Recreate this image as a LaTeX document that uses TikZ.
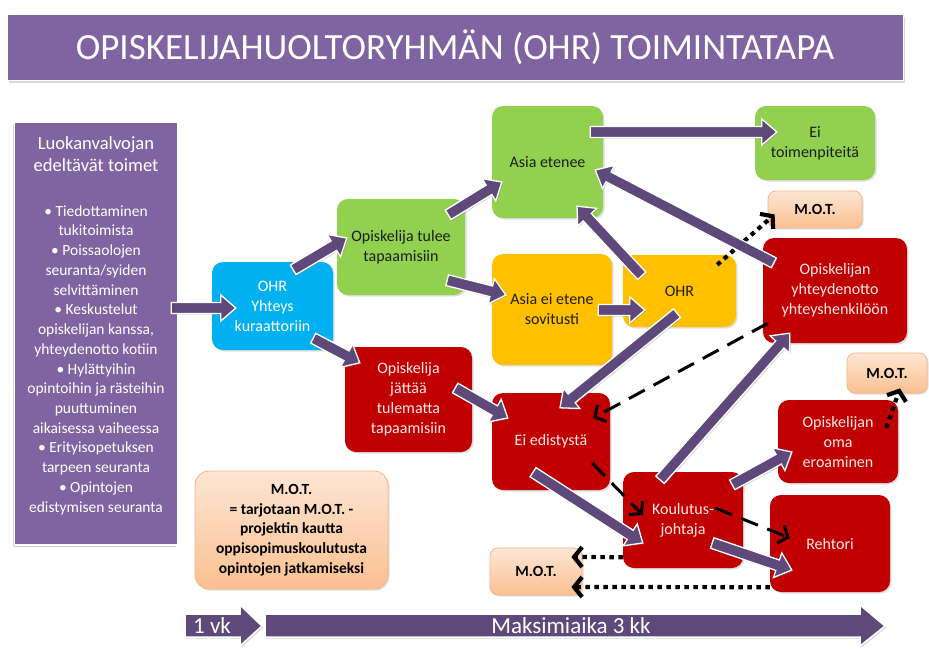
\documentclass[tikz,border=0pt]{standalone}
\usepackage{fontspec}
\setmainfont{Carlito}
\usetikzlibrary{calc,shadows,arrows.meta}
\definecolor{ttl}{HTML}{8064A2}
\definecolor{arr}{HTML}{5F497A}
\definecolor{grn}{HTML}{92D050}
\definecolor{blu}{HTML}{00B0F0}
\definecolor{org}{HTML}{FFC000}
\definecolor{rd}{HTML}{C00000}
\definecolor{pch1}{HTML}{FDE6D4}
\definecolor{pch2}{HTML}{FAC090}
\definecolor{pchb}{HTML}{F6B385}
\definecolor{txt}{HTML}{1E1E1E}
\definecolor{rtxt}{HTML}{FFE8E8}
\newcommand{\barrow}[2]{%
  \coordinate (ba) at (#1);
  \coordinate (bb) at (#2);
  \coordinate (bc) at ($(bb)!15pt!(ba)$);
  \path[barr] ($(ba)!5.5pt!90:(bb)$) -- ($(bc)!5.5pt!-90:(ba)$) -- ($(bc)!13pt!-90:(ba)$) -- (bb)
    -- ($(bc)!13pt!90:(ba)$) -- ($(bc)!5.5pt!90:(ba)$) -- ($(ba)!5.5pt!-90:(bb)$) -- cycle;}
\tikzset{
  box/.style={rounded corners=11pt, align=center, inner sep=2pt, font=\fontsize{16}{20}\selectfont,
    drop shadow={opacity=0.25, shadow xshift=1.5pt, shadow yshift=-1.5pt}},
  gbox/.style={box, fill=grn, text=txt},
  obox/.style={box, fill=org, text=txt},
  rbox/.style={box, fill=rd, text=rtxt},
  bluebox/.style={box, fill=blu, text=white},
  pbox/.style={box, rounded corners=8pt, top color=pch1, bottom color=pch2, draw=pchb, line width=0.8pt,
    font=\bfseries\fontsize{15.5}{19.75}\selectfont, text=black},
  barr/.style={fill=arr, draw=white, line width=1.3pt, line join=miter,
    drop shadow={opacity=0.3, shadow xshift=1.2pt, shadow yshift=-1.2pt}},
  dsh/.style={line width=3pt, dash pattern=on 18pt off 10pt, -{Straight Barb[length=8pt,width=19pt]}},
  dts/.style={line width=4.2pt, dash pattern=on 4.5pt off 4.5pt, -{Straight Barb[length=8pt,width=20pt]}},
  tline/.style={fill=arr, draw=white, line width=1.5pt, line join=miter,
    drop shadow={opacity=0.3, shadow xshift=1.5pt, shadow yshift=-1.5pt}},
  ttext/.style={text=white, font=\fontsize{23}{26}\selectfont, inner sep=0pt},
}
\begin{document}
\begin{tikzpicture}[x=1pt,y=-1pt]
\useasboundingbox (0,0) rectangle (929,648);
\fill[white] (0,0) rectangle (929,648);

% title
\node[fill=ttl, draw=white, line width=1pt, minimum width=896pt, minimum height=66pt, inner sep=0pt,
  text=white, font=\fontsize{37}{40}\selectfont,
  drop shadow={opacity=0.3, shadow xshift=2pt, shadow yshift=-3pt}] (title) at (455,47)
  {OPISKELIJAHUOLTORYHMÄN (OHR) TOIMINTATAPA};

% left box
\node[fill=ttl, draw=white, line width=1.5pt, minimum width=163pt, minimum height=423pt,
  drop shadow={opacity=0.35, shadow xshift=-2pt, shadow yshift=-2pt}] (left) at (96,333.5) {};
\node[text=white, font=\fontsize{18.6}{22}\selectfont, align=center, inner sep=0pt] (lbt) at (96,154)
  {Luokanvalvojan\\edeltävät toimet};
\node[text=white, font=\fontsize{15.5}{19.73}\selectfont, align=center, inner sep=0pt] (lbi) at (96,360)
  {• Tiedottaminen\\tukitoimista\\• Poissaolojen\\seuranta/syiden\\selvittäminen\\• Keskustelut\\opiskelijan kanssa,\\yhteydenotto kotiin\\• Hylättyihin\\opintoihin ja rästeihin\\puuttuminen\\aikaisessa vaiheessa\\• Erityisopetuksen\\tarpeen seuranta\\• Opintojen\\edistymisen seuranta};

% boxes
\node[bluebox, minimum width=121pt, minimum height=88pt] (blue) at (272.5,306) {OHR\\Yhteys\\kuraattoriin};
\node[gbox, minimum width=128pt, minimum height=96pt] (tulee) at (401,247) {Opiskelija tulee\\tapaamisiin};
\node[gbox, minimum width=111pt, minimum height=112pt] (etenee) at (547.5,162) {Asia etenee};
\node[gbox, minimum width=120pt, minimum height=74pt] (eitoim) at (815,143) {Ei\\toimenpiteitä};
\node[pbox, minimum width=94pt, minimum height=37pt] (mot1) at (815,209.5) {M.O.T.};
\node[obox, minimum width=120pt, minimum height=111pt] (eiet) at (552,309.5) {Asia ei etene\\sovitusti};
\node[obox, minimum width=113pt, minimum height=72pt] (ohr2) at (679.5,291) {OHR};
\node[rbox, minimum width=144pt, minimum height=105pt] (yht) at (835,290.5) {Opiskelijan\\yhteydenotto\\yhteyshenkilöön};
\node[rbox, minimum width=127pt, minimum height=105pt] (jattaa) at (408.5,399.5) {Opiskelija\\jättää\\tulematta\\tapaamisiin};
\node[rbox, minimum width=118pt, minimum height=97pt] (eied) at (551,441.5) {Ei edistystä};
\node[rbox, minimum width=120pt, minimum height=96pt] (kj) at (683,520) {Koulutus-\\johtaja};
\node[rbox, minimum width=120pt, minimum height=83pt] (ero) at (838,441.5) {Opiskelijan\\oma\\eroaminen};
\node[rbox, minimum width=120pt, minimum height=97pt] (reh) at (830,543.5) {Rehtori};
\node[pbox, minimum width=80pt, minimum height=40pt] (mot2) at (887,373) {M.O.T.};
\node[pbox, minimum width=92pt, minimum height=47pt] (mot3) at (536,571.5) {M.O.T.};
\node[pbox, rounded corners=14pt, minimum width=193pt, minimum height=118pt] (motleg) at (291.5,530)
  {M.O.T.\\= tarjotaan M.O.T. -\\projektin kautta\\oppisopimuskoulutusta\\opintojen jatkamiseksi};

% black dashed and dotted connectors
\draw[dsh] ($(yht.south west)+(5,-20)$) -- ($(eied.east)+(-17,-23.5)$);
\draw[dsh] ($(eied.east)+(-18,21.5)$) -- ($(kj.west)+(20,-5)$);
\draw[dsh] ($(kj.east)+(-28,-12)$) -- ($(reh.west)+(20,-5.5)$);
\draw[dts] ($(ohr2.north east)+(-19,10)$) -- ($(mot1.south west)+(7,-14)$);
\draw[dts] ($(ero.north east)+(-12,28)$) -- ($(mot2.south)+(13,-5)$);
\draw[dts] ($(kj.south west)+(0,-11)$) -- ($(mot3.east)+(-11,-14.5)$);
\draw[dts] ($(reh.south west)+(0,-5)$) -- ($(mot3.east)+(-11,15.5)$);

% block arrows
\barrow{$(left.east)+(-7,-25.5)$}{$(blue.west)+(24,2)$}
\barrow{$(blue.north east)+(-40,8)$}{$(tulee.west)+(10,-9)$}
\barrow{$(tulee.north east)+(-17,16)$}{$(etenee.west)+(10,20)$}
\barrow{$(tulee.south east)+(-18,-15)$}{$(eiet.west)+(14,-14.5)$}
\barrow{$(blue.south east)+(-20,-12)$}{$(jattaa.north west)+(15,16)$}
\barrow{$(etenee.east)+(-13,-30)$}{$(eitoim.west)+(22,-11)$}
\barrow{$(yht.north west)+(11,25)$}{$(etenee.east)+(-8,8)$}
\barrow{$(ohr2.north west)+(19,21)$}{$(etenee.south)+(29.5,-12)$}
\barrow{$(eiet.east)+(-14,0.5)$}{$(ohr2.west)+(22,19)$}
\barrow{$(ohr2.south)+(-2.5,-14)$}{$(eied.north)+(9,15)$}
\barrow{$(jattaa.east)+(-17,-11.5)$}{$(eied.west)+(16,-23.5)$}
\barrow{$(eied.south)+(-18,-18)$}{$(kj.west)+(20,23)$}
\barrow{$(kj.north)+(-23,8)$}{$(yht.south west)+(27,-10)$}
\barrow{$(kj.north east)+(-11,13)$}{$(ero.west)+(14,10.5)$}
\barrow{$(kj.east)+(-31,23)$}{$(reh.west)+(22,26.5)$}

% timeline
\path[tline] (185,614) -- (240,614) -- (240,605) -- (262,626) -- (240,646) -- (240,637) -- (185,637) -- cycle;
\path[tline] (265,614) -- (860,614) -- (860,605) -- (885,626) -- (860,646) -- (860,637) -- (265,637) -- cycle;
\node[ttext] (vk) at (212,626) {1 vk};
\node[ttext] (maks) at (571,626) {Maksimiaika 3 kk};
\end{tikzpicture}
\end{document}
